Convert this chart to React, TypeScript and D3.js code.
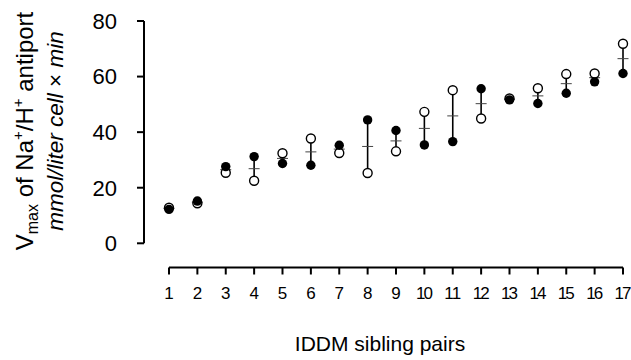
import React from "react";
import * as d3 from "d3";

const pairs = [1, 2, 3, 4, 5, 6, 7, 8, 9, 10, 11, 12, 13, 14, 15, 16, 17];
const filledValues = [12.2, 15.2, 27.6, 31.2, 28.7, 28.1, 35.3, 44.4, 40.6, 35.4, 36.6, 55.6, 51.6, 50.3, 54.0, 58.1, 61.1];
const openValues = [12.8, 14.4, 25.4, 22.5, 32.4, 37.7, 32.5, 25.3, 33.1, 47.3, 55.1, 44.9, 52.1, 55.8, 60.9, 61.1, 71.8];
const yTicks = [0, 20, 40, 60, 80];

const W = 631;
const H = 360;
const FONT = "'Liberation Sans', Arial, Helvetica, sans-serif";

export default function App() {
  const x = d3.scaleLinear().domain([1, 17]).range([169, 623]);
  const y = d3.scaleLinear().domain([0, 80]).range([243.3, 21]);
  const axisY = 267.5;
  const yAxisX = 144;

  return (
    <svg
      width={W}
      height={H}
      style={{ position: "absolute", left: 0, top: 0, background: "#fff" }}
      fontFamily={FONT}
    >
      {/* Y axis */}
      <line x1={yAxisX} x2={yAxisX} y1={y(80)} y2={y(0)} stroke="#000" strokeWidth={2} />
      {yTicks.map((t) => (
        <g key={t}>
          <line x1={yAxisX - 7} x2={yAxisX} y1={y(t)} y2={y(t)} stroke="#000" strokeWidth={2} />
          <text x={117} y={y(t)} dy="0.36em" textAnchor="end" fontSize={22} fill="#000">
            {t}
          </text>
        </g>
      ))}

      {/* X axis */}
      <line x1={x(1)} x2={x(17)} y1={axisY} y2={axisY} stroke="#000" strokeWidth={2} />
      {pairs.map((p) => (
        <g key={p}>
          <line x1={x(p)} x2={x(p)} y1={axisY} y2={axisY + 7} stroke="#000" strokeWidth={2} />
          <text x={x(p)} y={299} textAnchor="middle" fontSize={17} fill="#000" textLength={p >= 10 ? 17 : undefined}>
            {p}
          </text>
        </g>
      ))}
      <text x={380} y={351} textAnchor="middle" fontSize={21} fill="#000">
        IDDM sibling pairs
      </text>

      {/* Y title */}
      <g transform="translate(33,131) rotate(-90)">
        <text x={0} y={0} textAnchor="middle" fontSize={24} fill="#000">
          V<tspan fontSize={16} dy={5}>max</tspan>
          <tspan dy={-5}> of Na</tspan>
          <tspan fontSize={15} dy={-10}>+</tspan>
          <tspan dy={10}>/H</tspan>
          <tspan fontSize={15} dy={-10}>+</tspan>
          <tspan dy={10}> antiport</tspan>
        </text>
      </g>
      <g transform="translate(63,131) rotate(-90)">
        <text x={0} y={0} textAnchor="middle" fontSize={22.5} fontStyle="italic" fill="#000">
          mmol/liter cell <tspan fontStyle="normal">×</tspan> min
        </text>
      </g>

      {/* Data */}
      {pairs.map((p, i) => {
        const f = filledValues[i];
        const o = openValues[i];
        const m = (f + o) / 2;
        const cx = x(p);
        return (
          <g key={p}>
            <line x1={cx} x2={cx} y1={y(f)} y2={y(o)} stroke="#000" strokeWidth={1.6} />
            <line x1={cx - 5.5} x2={cx + 5.5} y1={y(m)} y2={y(m)} stroke="#444" strokeWidth={1} />
            <circle cx={cx} cy={y(o)} r={4.5} fill="#fff" stroke="#000" strokeWidth={1.4} />
            <circle cx={cx} cy={y(f)} r={4.7} fill="#000" />
          </g>
        );
      })}
    </svg>
  );
}
